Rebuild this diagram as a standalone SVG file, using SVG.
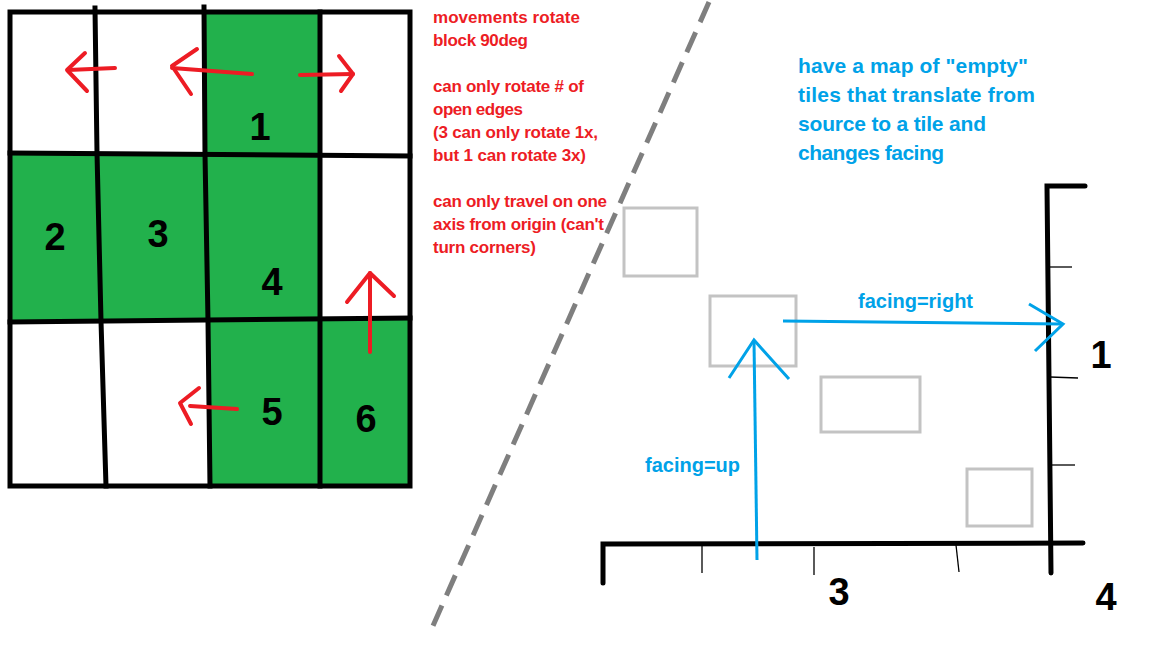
<svg xmlns="http://www.w3.org/2000/svg" width="1152" height="648" viewBox="0 0 1152 648">
<style>
.grid{fill:none;stroke:#000;stroke-width:5;stroke-linecap:square}
.red{fill:none;stroke:#ed1c24;stroke-width:4;stroke-linecap:round;stroke-linejoin:round}
.blue{fill:none;stroke:#00a2e8;stroke-width:3;stroke-linecap:butt}
.tile{fill:none;stroke:#c3c3c3;stroke-width:3}
.axis{fill:none;stroke:#000;stroke-width:5;stroke-linecap:round}
.tick{fill:none;stroke:#000;stroke-width:1.3}
.num{font-family:"Liberation Sans",Arial,sans-serif;font-weight:bold;font-size:38px;fill:#000;text-anchor:middle}
.rt{font-family:"Liberation Sans",Arial,sans-serif;font-weight:bold;font-size:17px;fill:#ed1c24}
.bt{font-family:"Liberation Sans",Arial,sans-serif;font-weight:bold;font-size:21px;fill:#00a2e8}
.bl{font-family:"Liberation Sans",Arial,sans-serif;font-weight:bold;font-size:20px;fill:#00a2e8}
</style>
<rect width="1152" height="648" fill="#fff"/>

<g id="grid">
  <path d="M205 12 H320 V154 H10 V321 H208 V486 H410 V320 H320 V154 H205 Z" fill="#22b14c"/>
  <rect x="10" y="12" width="400" height="474" class="grid"/>
  <polyline class="grid" points="95,8 97,153 101,321 106,486"/>
  <polyline class="grid" points="204,7 205,154 208,321 210,486"/>
  <line class="grid" x1="320" y1="12" x2="320" y2="486"/>
  <polyline class="grid" points="10,153 410,156"/>
  <polyline class="grid" points="10,322 410,318"/>
</g>

<g id="cell-labels">
  <text class="num" x="260" y="140">1</text>
  <text class="num" x="55" y="250">2</text>
  <text class="num" x="158" y="247">3</text>
  <text class="num" x="272" y="295">4</text>
  <text class="num" x="272" y="425">5</text>
  <text class="num" x="366" y="432">6</text>
</g>

<g id="red-arrows">
  <polyline class="red" points="115,68 68,70"/>
  <polyline class="red" points="85,53 67,70 87,91"/>
  <polyline class="red" points="252,74 172,68"/>
  <polyline class="red" points="197,49 172,66 191,94"/>
  <polyline class="red" points="300,75 353,74"/>
  <polyline class="red" points="339,56 353,74 341,91"/>
  <polyline class="red" points="370,352 370,273"/>
  <polyline class="red" points="347,302 370,273 394,296"/>
  <polyline class="red" points="237,409 190,406"/>
  <polyline class="red" points="199,388 180,403 191,424"/>
</g>

<g id="rules-text">
  <text class="rt" x="433" y="23" textLength="147">movements rotate</text>
  <text class="rt" x="433" y="46" textLength="95">block 90deg</text>
  <text class="rt" x="433" y="92" textLength="151">can only rotate # of</text>
  <text class="rt" x="433" y="115" textLength="90">open edges</text>
  <text class="rt" x="433" y="138" textLength="165">(3 can only rotate 1x,</text>
  <text class="rt" x="433" y="161" textLength="153">but 1 can rotate 3x)</text>
  <text class="rt" x="433" y="207" textLength="174">can only travel on one</text>
  <text class="rt" x="433" y="230" textLength="171">axis from origin (can't</text>
  <text class="rt" x="433" y="253" textLength="103">turn corners)</text>
</g>

<g id="divider">
  <line x1="709" y1="2" x2="432" y2="628" stroke="#7f7f7f" stroke-width="5" stroke-dasharray="22 11"/>
</g>

<g id="map-text">
  <text class="bt" x="798" y="73" textLength="230">have a map of "empty"</text>
  <text class="bt" x="798" y="102" textLength="237">tiles that translate from</text>
  <text class="bt" x="798" y="131" textLength="188">source to a tile and</text>
  <text class="bt" x="798" y="160" textLength="146">changes facing</text>
</g>

<g id="tiles">
  <rect class="tile" x="624" y="208" width="73" height="68"/>
  <rect class="tile" x="710" y="296" width="86" height="70"/>
  <rect class="tile" x="821" y="377" width="99" height="55"/>
  <rect class="tile" x="967" y="469" width="65" height="57"/>
</g>

<g id="axes">
  <polyline class="axis" points="603,583 603,544 1083,543"/>
  <polyline class="axis" points="1085,186 1047,186 1051,573"/>
  <line class="tick" x1="702" y1="545" x2="702" y2="573"/>
  <line class="tick" x1="814" y1="547" x2="814" y2="575"/>
  <line class="tick" x1="956" y1="545" x2="959" y2="572"/>
  <line class="tick" x1="1049" y1="267" x2="1072" y2="267"/>
  <line class="tick" x1="1050" y1="377" x2="1078" y2="378"/>
  <line class="tick" x1="1052" y1="465" x2="1075" y2="465"/>
  <text class="num" x="1101" y="368">1</text>
  <text class="num" x="839" y="605">3</text>
  <text class="num" x="1106" y="610">4</text>
</g>

<g id="connectors">
  <polyline class="blue" points="757,560 754,341"/>
  <polyline class="blue" points="729,378 754,340 789,379"/>
  <polyline class="blue" points="783,321 1062,324"/>
  <polyline class="blue" points="1029,304 1063,324 1035,351"/>
  <text class="bl" x="858" y="308">facing=right</text>
  <text class="bl" x="645" y="472">facing=up</text>
</g>
</svg>
